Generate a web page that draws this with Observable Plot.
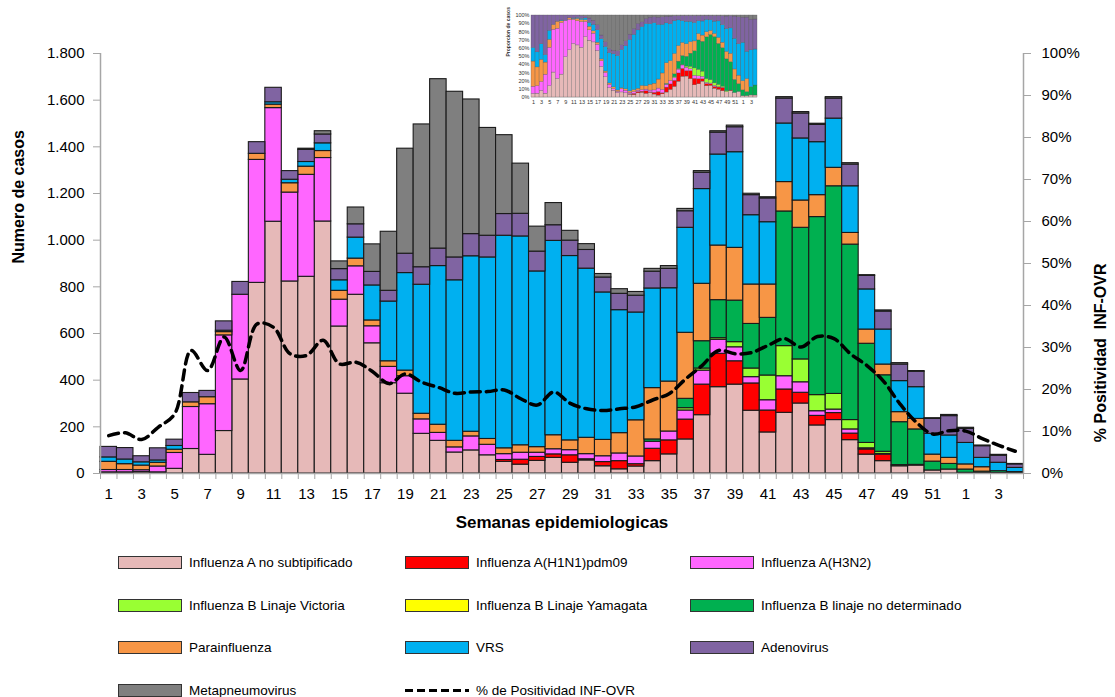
<!DOCTYPE html>
<html>
<head>
<meta charset="utf-8">
<script src="https://cdn.jsdelivr.net/npm/d3@7"></script>
<script src="https://cdn.jsdelivr.net/npm/@observablehq/plot@0.6"></script>
<style>
  html, body { margin: 0; padding: 0; background: #fff; }
  #wrap { position: relative; width: 1115px; height: 697px; overflow: hidden; font-family: "Liberation Sans", Arial, sans-serif; }
  #main { position: absolute; left: 0; top: 0; }
  #inset { position: absolute; left: 494px; top: 5px; }
  .lg { position: absolute; display: flex; align-items: center; font-size: 13.5px; color: #000; white-space: nowrap; }
  .sw { width: 62px; height: 11px; border: 1px solid #333; margin-right: 7px; box-sizing: content-box; }
</style>
</head>
<body>
<div id="wrap">
  <div id="main"></div>
  <div id="inset"></div>
  <div id="legend"></div>
</div>
<script>
// ---------- data ----------
const weeks = [1,2,3,4,5,6,7,8,9,10,11,12,13,14,15,16,17,18,19,20,21,22,23,24,25,26,27,28,29,30,31,32,33,34,35,36,37,38,39,40,41,42,43,44,45,46,47,48,49,50,51,52,1,2,3,4];

const fluANoSub = [5,5,6,5,20,105,80,182,403,817, 1079,823,843,1080,630,766,558,387,342,170, 140,90,99,78,50,38,54,67,46,56, 31,18,30,53,82,146,250,370,381,269, 176,260,300,206,229,143,81,53,31,34, 13,17,3,2,2,1];
const fluAH1N1 = [0,0,0,0,0,0,0,0,0,0, 0,0,0,0,0,0,0,0,0,0, 0,0,0,0,8,21,17,15,32,5, 18,35,10,53,60,85,131,143,100,117, 94,100,46,41,30,28,22,28,0,3, 0,0,0,0,0,0];
const fluAH3N2 = [10,10,8,25,68,180,217,410,363,527, 487,381,437,272,115,122,73,70,75,62, 34,22,60,45,25,30,18,22,22,22, 25,33,33,30,38,39,60,60,60,27, 44,57,45,20,15,18,5,3,0,0, 0,0,0,0,0,0];
const fluBVictoria = [0,0,0,0,0,0,0,0,0,0, 0,0,0,0,0,0,0,0,0,0, 0,0,0,0,0,0,0,0,0,0, 0,0,0,0,0,10,9,7,22,37, 106,129,98,69,67,40,23,9,5,0, 0,0,0,0,0,0];
const fluBYamagata = [0,0,0,0,0,0,0,0,0,0, 0,0,0,0,0,0,0,0,0,0, 0,0,0,0,0,0,0,0,0,0, 0,0,0,0,0,0,0,0,0,0, 0,0,0,0,0,0,0,0,0,0, 0,0,0,0,0,0];
const fluBNoDet = [0,0,0,0,0,0,0,0,0,0, 0,0,0,0,0,0,0,0,0,0, 0,0,0,0,0,0,0,0,0,0, 0,0,0,10,0,40,117,163,178,191, 247,577,564,763,890,752,425,328,184,152, 38,24,14,6,8,5];
const parainfluenza = [35,25,20,16,14,20,30,14,0,26, 15,40,35,30,38,33,25,24,24,24, 35,28,20,25,25,32,24,60,42,70, 70,87,155,220,214,283,246,234,226,169, 143,126,117,94,79,50,61,46,43,45, 30,26,22,19,0,0];
const vrs = [19,20,14,10,16,0,0,6,0,0, 10,15,20,33,45,90,150,256,418,553, 680,688,752,778,911,895,753,833,790,725, 632,527,462,427,400,450,406,390,410,297, 267,251,266,227,211,200,172,150,133,136, 89,96,92,40,36,18];
const adenovirus = [45,49,26,52,27,40,27,40,55,50, 62,37,52,38,48,57,58,46,83,75, 75,98,95,93,93,97,85,67,66,80, 64,70,72,72,83,71,70,94,107,86, 102,107,107,74,86,93,58,77,71,66, 64,83,60,50,30,15];
const metapneumovirus = [0,0,0,0,0,0,0,0,0,0, 0,0,5,14,33,72,118,253,450,612, 726,710,577,462,338,215,107,95,42,25, 15,20,16,12,12,10,7,6,7,6, 5,6,6,5,6,6,3,5,6,3, 3,5,5,3,4,2];
const positividad = [9.0,9.7,8.1,11.0,14.2,29.3,24.5,32.5,24.5,35.6, 34.8,28.5,28.1,31.7,26.1,26.5,24.3,21.4,23.7,21.7, 20.5,19.1,19.4,19.5,19.9,17.8,16.3,19.4,16.7,15.4, 15.0,15.4,15.9,17.5,19.0,22.5,25.7,29.3,28.5,28.8, 30.5,32.1,30.1,32.6,32.1,28.5,25.7,22.0,16.6,12.2, 9.4,10.2,10.1,8.3,6.7,5.3];

const seriesNames = ["Influenza A no subtipificado","Influenza A(H1N1)pdm09","Influenza A(H3N2)","Influenza B Linaje Victoria","Influenza B Linaje Yamagata","Influenza B linaje no determinado","Parainfluenza","VRS","Adenovirus","Metapneumovirus"];
const seriesValues = [fluANoSub, fluAH1N1, fluAH3N2, fluBVictoria, fluBYamagata, fluBNoDet, parainfluenza, vrs, adenovirus, metapneumovirus];
const seriesColors = ["#E6B9B8","#FF0000","#FF66FF","#99FF33","#FFFF00","#00B050","#F79646","#00B0F0","#8064A2","#7F7F7F"];
const lineLabel = "% de Positividad INF-OVR";
const insetTitle = "Proporcion de casos";
const yMax = 1800;
const yTicks = [0,200,400,600,800,1000,1200,1400,1600,1800];
const pctTicks = [0,10,20,30,40,50,60,70,80,90,100];
const insetPctTicks = [0,0.1,0.2,0.3,0.4,0.5,0.6,0.7,0.8,0.9,1];

// ---------- tidy tables ----------
const N = weeks.length;
const data = [];
seriesValues.forEach((vals, s) => vals.forEach((v, i) => {
  if (v > 0) data.push({i, i1: i + 1, series: seriesNames[s], value: v});
}));
const lineData = positividad.map((p, i) => ({xc: i + 0.5, yv: p / 100 * yMax}));
const fmtThousands = d => d3.format(",")(d).replace(/,/g, ".");

const font = "'Liberation Sans', Arial, sans-serif";

// ---------- main chart ----------
const main = Plot.plot({
  width: 1115, height: 545,
  marginLeft: 100, marginRight: 92, marginTop: 53, marginBottom: 72,
  style: {fontFamily: font, fontSize: "15px", background: "transparent", color: "#000"},
  x: {type: "linear", domain: [0, N], axis: null},
  y: {domain: [0, yMax], axis: null},
  color: {domain: seriesNames, range: seriesColors},
  marks: [
    Plot.rectY(data, {x1: "i", x2: "i1", y: "value", fill: "series", order: seriesNames, stroke: "#1a1a1a", strokeWidth: 1.1}),
    Plot.line(lineData, {x: "xc", y: "yv", stroke: "#000", strokeWidth: 3.5, strokeDasharray: "10,6", curve: "catmull-rom"}),
    Plot.ruleX([0, N], {stroke: "#a6a6a6", strokeWidth: 1.5}),
    Plot.ruleY([0], {stroke: "#a6a6a6", strokeWidth: 1.5}),
    Plot.axisY({anchor: "left", ticks: yTicks, tickSize: 7, tickPadding: 9, tickFormat: fmtThousands, stroke: "#a6a6a6", color: "#000", label: null, fontSize: 15}),
    Plot.axisY({anchor: "right", ticks: pctTicks.map(p => p / 100 * yMax), tickSize: 7, tickPadding: 11, tickFormat: d => Math.round(d / yMax * 100) + "%", stroke: "#a6a6a6", color: "#000", label: null, fontSize: 15}),
    Plot.axisX({ticks: d3.range(0, N + 1), tickSize: 6, tickFormat: () => "", stroke: "#a6a6a6", label: null}),
    Plot.axisX({ticks: d3.range(0, N, 2).map(i => i + 0.5), tickSize: 0, tickPadding: 15, tickFormat: d => weeks[Math.floor(d)], color: "#000", label: null, fontSize: 15}),
    Plot.text(["Numero de casos"], {text: d => d, frameAnchor: "left", dx: -82, rotate: -90, fontWeight: "bold", fontSize: 16}),
    Plot.text(["% Positividad  INF-OVR"], {text: d => d, frameAnchor: "right", dx: 77, rotate: -90, fontWeight: "bold", fontSize: 16}),
    Plot.text(["Semanas epidemiologicas"], {text: d => d, frameAnchor: "bottom", dy: 54, fontWeight: "bold", fontSize: 17})
  ]
});
document.getElementById("main").appendChild(main);

// ---------- inset (proportion of cases) ----------
const inset = Plot.plot({
  width: 271, height: 110,
  marginLeft: 37, marginRight: 8, marginTop: 10, marginBottom: 18,
  style: {fontFamily: font, fontSize: "5px", background: "white", color: "#333", overflow: "visible"},
  x: {type: "linear", domain: [0, N], axis: null},
  y: {domain: [0, 1], axis: null},
  color: {domain: seriesNames, range: seriesColors},
  marks: [
    Plot.rectY(data, {x1: "i", x2: "i1", y: "value", fill: "series", order: seriesNames, offset: "normalize", stroke: "#555", strokeWidth: 0.3}),
    Plot.ruleY([0], {stroke: "#bbb", strokeWidth: 0.5}),
    Plot.axisY({anchor: "left", ticks: insetPctTicks, tickSize: 0, tickPadding: 2, tickFormat: d => Math.round(d * 100) + "%", label: null, fontSize: 5.5}),
    Plot.axisX({ticks: d3.range(0, N, 2).map(i => i + 0.5), tickSize: 0, tickPadding: 3, tickFormat: d => weeks[Math.floor(d)], label: null, fontSize: 5.5}),
    Plot.text([insetTitle], {text: d => d, frameAnchor: "left", dx: -23, rotate: -90, fontWeight: "bold", fontSize: 5})
  ]
});
document.getElementById("inset").appendChild(inset);

// ---------- legend ----------
const legend = document.getElementById("legend");
const colX = [118, 405, 690];
const rowY = [562, 605, 647, 690];
const items = seriesNames.map((n, k) => ({label: n, color: seriesColors[k]}));
items.push({label: lineLabel, dashed: true});
items.forEach((it, k) => {
  const r = Math.floor(k / 3), c = k % 3;
  const el = document.createElement("div");
  el.className = "lg";
  el.style.left = colX[c] + "px";
  el.style.top = (rowY[r] - 8) + "px";
  el.style.height = "16px";
  if (it.dashed) {
    const ns = "http://www.w3.org/2000/svg";
    const svg = document.createElementNS(ns, "svg");
    svg.setAttribute("width", "64"); svg.setAttribute("height", "13");
    svg.style.marginRight = "7px";
    const ln = document.createElementNS(ns, "line");
    ln.setAttribute("x1", "0"); ln.setAttribute("x2", "64");
    ln.setAttribute("y1", "6.5"); ln.setAttribute("y2", "6.5");
    ln.setAttribute("stroke", "#000"); ln.setAttribute("stroke-width", "3");
    ln.setAttribute("stroke-dasharray", "8,4");
    svg.appendChild(ln);
    el.appendChild(svg);
  } else {
    const sw = document.createElement("div");
    sw.className = "sw";
    sw.style.background = it.color;
    el.appendChild(sw);
  }
  const t = document.createElement("span");
  t.textContent = it.label;
  el.appendChild(t);
  legend.appendChild(el);
});
</script>
</body>
</html>
